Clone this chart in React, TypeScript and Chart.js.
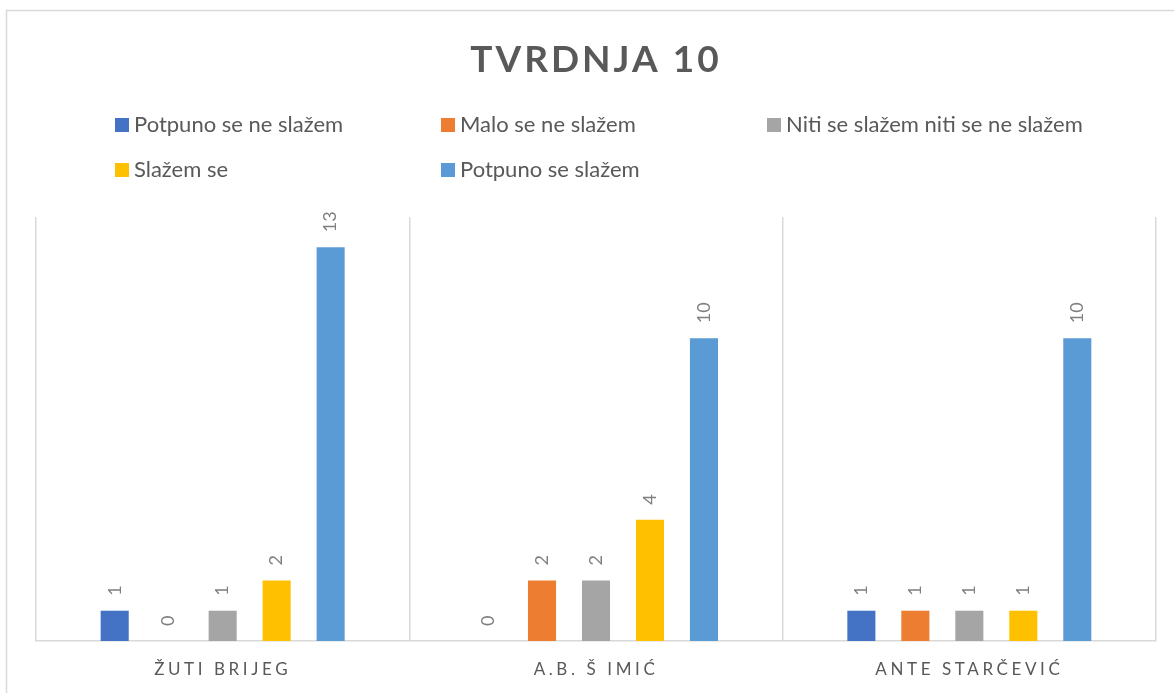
import React, { useEffect, useRef } from "react";
import { Chart, registerables } from "chart.js";

Chart.register(...registerables);

const title = "TVRDNJA 10";
const categories = ["ŽUTI BRIJEG", "A.B. Š IMIĆ", "ANTE STARČEVIĆ"];
const seriesNames = [
  "Potpuno se ne slažem",
  "Malo se ne slažem",
  "Niti se slažem niti se ne slažem",
  "Slažem se",
  "Potpuno se slažem",
];
const seriesColors = ["#4472C4", "#ED7D31", "#A5A5A5", "#FFC000", "#5B9BD5"];
const potpunoNe = [1, 0, 1];
const maloNe = [0, 2, 1];
const niti = [1, 2, 1];
const slazem = [2, 4, 1];
const potpunoDa = [13, 10, 10];
const seriesValues = [potpunoNe, maloNe, niti, slazem, potpunoDa];
const yMax = 14;

const TEXT = "#595959";
const GRID = "#d9d9d9";

const decorPlugin = {
  id: "decor",
  beforeDraw(chart: any) {
    const ctx = chart.ctx;
    ctx.save();
    ctx.fillStyle = "#ffffff";
    ctx.fillRect(0, 0, chart.width, chart.height);
    ctx.strokeStyle = GRID;
    ctx.lineWidth = 1.5;
    ctx.strokeRect(6.5, 10.5, chart.width + 20, chart.height + 20);
    ctx.restore();
  },
  afterDraw(chart: any) {
    const ctx = chart.ctx;
    ctx.save();
    // Title
    ctx.fillStyle = TEXT;
    ctx.font = "bold 37px Lato";
    (ctx as any).letterSpacing = "3px";
    ctx.textAlign = "center";
    ctx.textBaseline = "alphabetic";
    ctx.fillText(title, 596, 72);

    // Legend
    (ctx as any).letterSpacing = "0px";
    ctx.font = "22px Lato";
    ctx.textAlign = "left";
    ctx.textBaseline = "middle";
    const cols = [115, 441, 767];
    const rows = [125, 170];
    seriesNames.forEach((name, i) => {
      const x = cols[i % 3];
      const y = rows[Math.floor(i / 3)];
      ctx.fillStyle = seriesColors[i];
      ctx.fillRect(x, y - 7, 14, 14);
      ctx.fillStyle = TEXT;
      ctx.fillText(name, x + 19, y);
    });

    // X labels
    const xs = chart.scales.x;
    ctx.font = "17px Lato";
    (ctx as any).letterSpacing = "3.6px";
    ctx.textAlign = "center";
    ctx.textBaseline = "alphabetic";
    ctx.fillStyle = TEXT;
    categories.forEach((c, i) => {
      ctx.fillText(c, xs.getPixelForValue(i), 675);
    });

    // Data labels
    (ctx as any).letterSpacing = "0px";
    ctx.font = "18px Lato";
    ctx.fillStyle = "#7f7f7f";
    ctx.textAlign = "left";
    ctx.textBaseline = "middle";
    chart.data.datasets.forEach((ds: any, di: number) => {
      const meta = chart.getDatasetMeta(di);
      meta.data.forEach((bar: any, j: number) => {
        const v = ds.data[j];
        ctx.save();
        ctx.translate(bar.x, bar.y - 15);
        ctx.rotate(-Math.PI / 2);
        ctx.fillText(String(v), 0, 0);
        ctx.restore();
      });
    });
    ctx.restore();
  },
};

export default function App() {
  const ref = useRef<HTMLCanvasElement>(null);
  useEffect(() => {
    if (!ref.current) return;
    const chart = new Chart(ref.current, {
      type: "bar",
      data: {
        labels: categories,
        datasets: seriesNames.map((n, i) => ({
          label: n,
          data: seriesValues[i],
          backgroundColor: seriesColors[i],
          borderWidth: 0,
          categoryPercentage: 0.723,
          barPercentage: 0.52,
        })),
      },
      options: {
        animation: false,
        responsive: false,
        maintainAspectRatio: false,
        devicePixelRatio: 1,
        layout: { padding: { top: 217, left: 36, right: 18, bottom: 52 } },
        plugins: {
          legend: { display: false },
          title: { display: false },
          tooltip: { enabled: false },
        },
        scales: {
          x: {
            display: true,
            grid: {
              display: true,
              offset: true,
              color: GRID,
              lineWidth: 1.5,
              drawTicks: false,
            },
            border: { display: true, color: GRID, width: 1.5 },
            ticks: { display: false },
          },
          y: {
            display: false,
            min: 0,
            max: yMax,
          },
        },
      },
      plugins: [decorPlugin],
    });
    return () => chart.destroy();
  }, []);
  return (
    <div style={{ position: "absolute", left: 0, top: 0, width: 1174, height: 693 }}>
      <canvas ref={ref} width={1174} height={693} style={{ display: "block" }} />
    </div>
  );
}
